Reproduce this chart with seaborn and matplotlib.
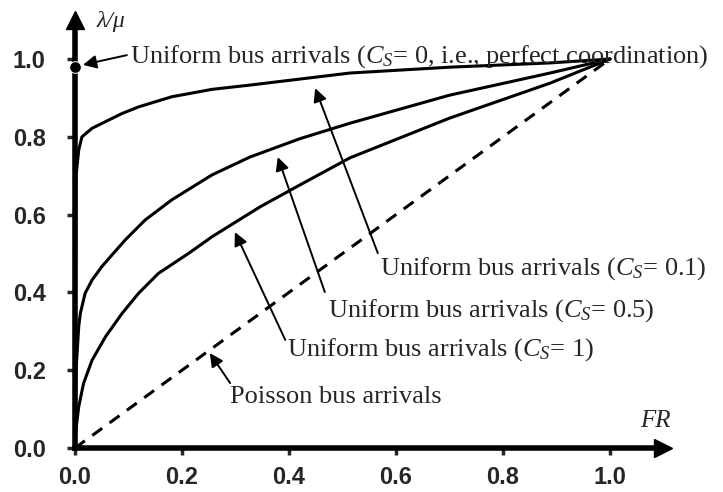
import numpy as np
import pandas as pd
import seaborn as sns
import matplotlib.pyplot as plt

fr_cs01 = [0.0, 0.002, 0.007, 0.013, 0.032, 0.057, 0.088, 0.119, 0.181, 0.256, 0.327, 0.514, 0.70, 0.888, 1.0]
lr_cs01 = [0.0, 0.70, 0.766, 0.80, 0.822, 0.839, 0.86, 0.877, 0.903, 0.922, 0.933, 0.964, 0.979, 0.99, 1.0]

fr_cs05 = [0.0, 0.002, 0.007, 0.010, 0.019, 0.032, 0.050, 0.069, 0.094, 0.131, 0.181, 0.256, 0.327, 0.42, 0.514, 0.70, 0.888, 1.0]
lr_cs05 = [0.0, 0.2, 0.312, 0.346, 0.398, 0.432, 0.466, 0.496, 0.535, 0.586, 0.638, 0.702, 0.748, 0.795, 0.835, 0.907, 0.964, 1.0]

fr_cs1 = [0.0, 0.002, 0.007, 0.016, 0.032, 0.057, 0.088, 0.119, 0.156, 0.212, 0.256, 0.346, 0.42, 0.514, 0.607, 0.70, 0.888, 1.0]
lr_cs1 = [0.0, 0.05, 0.106, 0.166, 0.226, 0.286, 0.346, 0.398, 0.449, 0.50, 0.543, 0.62, 0.676, 0.746, 0.797, 0.848, 0.938, 1.0]

fr_poisson = [0.0, 1.0]
lr_poisson = [0.0, 1.0]

fr_cs0 = [0.0]
lr_cs0 = [0.98]

ticks = [0.0, 0.2, 0.4, 0.6, 0.8, 1.0]
tick_labels = ['0.0', '0.2', '0.4', '0.6', '0.8', '1.0']

# label text, text anchor, arrow tail, arrow head, font size
labels = [
    ('Uniform bus arrivals ($C_S$= 0, i.e., perfect coordination)', (0.103, 0.99), (0.097, 1.010), (0.015, 0.985), 19),
    ('Uniform bus arrivals ($C_S$= 0.1)', (0.570, 0.447), (0.566, 0.501), (0.449, 0.925), 19),
    ('Uniform bus arrivals ($C_S$= 0.5)', (0.473, 0.339), (0.467, 0.401), (0.379, 0.748), 19),
    ('Uniform bus arrivals ($C_S$= 1)', (0.396, 0.237), (0.393, 0.278), (0.299, 0.555), 19),
    ('Poisson bus arrivals', (0.290, 0.116), (0.290, 0.167), (0.252, 0.244), 19),
]

sns.set_style('white')
plt.rcParams['font.family'] = ['Liberation Serif', 'DejaVu Serif']
plt.rcParams['mathtext.fontset'] = 'custom'
plt.rcParams['mathtext.rm'] = 'Liberation Serif'
plt.rcParams['mathtext.it'] = 'Liberation Serif:italic'

fig = plt.figure(figsize=(7.23, 4.92), dpi=100)
ax = fig.add_axes([0.1037, 0.0894, 0.814, 0.8697])

for fr, lr in [(fr_cs01, lr_cs01), (fr_cs05, lr_cs05), (fr_cs1, lr_cs1)]:
    sns.lineplot(x=fr, y=lr, ax=ax, color='black', linewidth=2.2, sort=False,
                 solid_joinstyle='round')
sns.lineplot(x=fr_poisson, y=lr_poisson, ax=ax, color='black', linewidth=2.2,
             linestyle=(0, (4, 3)))
sns.scatterplot(x=fr_cs0, y=lr_cs0, ax=ax, color='black', s=70, zorder=5, clip_on=False)

for text, pos, tail, head, fs in labels:
    ax.text(pos[0], pos[1], text, fontsize=fs, ha='left', va='baseline')
    ax.annotate('', xy=head, xytext=tail,
                arrowprops=dict(arrowstyle='-|>', color='black', lw=1.4,
                                mutation_scale=20, shrinkA=0, shrinkB=0))

ax.text(1.056, 0.054, 'FR', fontsize=18, fontstyle='italic')
ax.text(0.041, 1.082, 'λ/μ', fontsize=17, fontstyle='italic')

ax.set_xlim(0, 1.1)
ax.set_ylim(0, 1.1)
ax.set_xticks(ticks)
ax.set_xticklabels(tick_labels)
ax.set_yticks(ticks)
ax.set_yticklabels(tick_labels)
for lab in ax.get_xticklabels() + ax.get_yticklabels():
    lab.set_fontfamily('Liberation Sans')
    lab.set_fontweight('bold')
    lab.set_fontsize(17)
ax.tick_params(axis='y', direction='out', length=6, width=2.5, pad=15, left=True)
ax.tick_params(axis='x', direction='out', length=5, width=2.5, pad=8, bottom=True)

sns.despine(ax=ax)
for side in ['left', 'bottom']:
    ax.spines[side].set_linewidth(4)
    ax.spines[side].set_color('black')

# arrow heads on the axes
ax.plot(1, 0, '>k', markersize=13, transform=ax.get_yaxis_transform(), clip_on=False)
ax.plot(0, 1, '^k', markersize=13, transform=ax.get_xaxis_transform(), clip_on=False)

plt.savefig('out.png', dpi=100)
